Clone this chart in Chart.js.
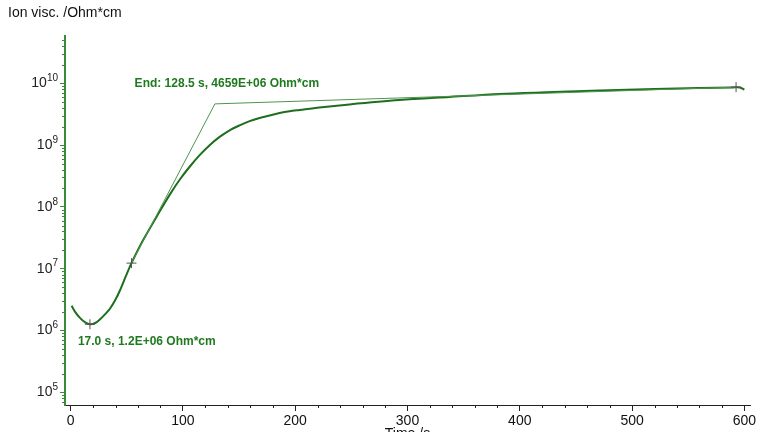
<!DOCTYPE html>
<html>
<head>
<meta charset="utf-8">
<script src="https://cdn.jsdelivr.net/npm/chart.js@4.4.1/dist/chart.umd.min.js"></script>
<style>
html, body { margin: 0; padding: 0; background: #fff; overflow: hidden; }
#wrap { position: relative; width: 768px; height: 445px; }
</style>
</head>
<body>
<div id="wrap"><canvas id="viscChart"></canvas></div>
<script>
// ion viscosity curve (time in s, Ohm*cm)
const times = [0.9, 4, 8.3, 13, 17.2, 22, 26, 31, 35, 40, 44, 49, 54.2, 64.5, 79.4, 88.3, 97.1, 106, 114.9,
  123.8, 132.7, 141.6, 150.5, 159.4, 168.3, 177.2, 186, 195, 204, 221.6, 248.3, 292.7, 337, 382, 430, 471,
  520, 559.4, 590, 596, 600];
const viscosity = [2.5e6, 2.0e6, 1.6e6, 1.35e6, 1.26e6, 1.32e6, 1.5e6, 1.85e6, 2.24e6, 3.16e6, 4.47e6, 7.41e6,
  1.23e7, 2.88e7, 8.5e7, 1.58e8, 2.75e8, 4.47e8, 6.9e8, 1.0e9, 1.36e9, 1.74e9, 2.09e9, 2.45e9, 2.75e9,
  3.02e9, 3.31e9, 3.55e9, 3.72e9, 4.07e9, 4.57e9, 5.37e9, 6.03e9, 6.76e9, 7.24e9, 7.7e9, 8.13e9, 8.41e9,
  8.6e9, 8.6e9, 7.9e9];

// construction line for the end point
const tangentTimes = [54.2, 128.5, 592.6];
const tangentValues = [1.23e7, 4.659e9, 8.7e9];

// cross markers
const markerTimes = [17.2, 54.2, 592.6];
const markerValues = [1.26e6, 1.23e7, 8.7e9];

const xTickValues = [0, 100, 200, 300, 400, 500, 600];
const yTickValues = [1e5, 1e6, 1e7, 1e8, 1e9, 1e10];
const yTickExponents = ['5', '6', '7', '8', '9', '10'];

const noteTexts = ['End: 128.5 s, 4659E+06 Ohm*cm', '17.0 s, 1.2E+06 Ohm*cm'];
const noteTimes = [57, 6.5];
const noteValues = [1e10, 6.6e5];

const curveGreen = '#1d6e1d';
const axisGreen = '#3a8a3a';
const noteGreen = '#1f7a1f';
const fontFam = "Arial, 'Liberation Sans', sans-serif";

Chart.defaults.font.family = fontFam;

const extras = {
  id: 'extras',
  afterDatasetsDraw(chart) {
    const { ctx, chartArea } = chart;
    const x = chart.scales.x, y = chart.scales.y;
    ctx.save();
    ctx.lineWidth = 1;

    // minor ticks on the log axis
    ctx.strokeStyle = axisGreen;
    for (let e = 4; e <= 10; e++) {
      for (let k = 2; k <= 9; k++) {
        const v = k * Math.pow(10, e);
        if (v < y.min || v > y.max) continue;
        const py = Math.round(y.getPixelForValue(v)) + 0.5;
        ctx.beginPath();
        ctx.moveTo(chartArea.left - 3, py);
        ctx.lineTo(chartArea.left, py);
        ctx.stroke();
      }
    }

    // minor ticks on time axis
    ctx.strokeStyle = '#222';
    for (let v = 20; v < 605; v += 20) {
      if (v % 100 === 0) continue;
      const px = Math.round(x.getPixelForValue(v)) + 0.5;
      ctx.beginPath();
      ctx.moveTo(px, chartArea.bottom);
      ctx.lineTo(px, chartArea.bottom + 3);
      ctx.stroke();
    }

    // y labels as 10 with raised exponent
    ctx.fillStyle = '#222';
    ctx.textAlign = 'right';
    ctx.textBaseline = 'middle';
    const right = chartArea.left - 7;
    yTickValues.forEach((v, i) => {
      const py = y.getPixelForValue(v);
      ctx.font = '10px ' + fontFam;
      const ew = ctx.measureText(yTickExponents[i]).width;
      ctx.fillText(yTickExponents[i], right, py - 5);
      ctx.font = '14px ' + fontFam;
      ctx.fillText('10', right - ew, py);
    });

    ctx.fillStyle = noteGreen;
    ctx.font = 'bold 12px ' + fontFam;
    ctx.textAlign = 'left';
    ctx.textBaseline = 'middle';
    noteTexts.forEach((t, i) => {
      ctx.fillText(t, x.getPixelForValue(noteTimes[i]), y.getPixelForValue(noteValues[i]));
    });
    ctx.restore();
  }
};

new Chart(document.getElementById('viscChart'), {
  type: 'line',
  data: {
    datasets: [
      {
        data: times.map((t, i) => ({ x: t, y: viscosity[i] })),
        borderColor: curveGreen,
        borderWidth: 2,
        pointRadius: 0,
        tension: 0.3,
        order: 2
      },
      {
        data: tangentTimes.map((t, i) => ({ x: t, y: tangentValues[i] })),
        borderColor: '#4f934f',
        borderWidth: 1,
        pointRadius: 0,
        tension: 0,
        order: 1
      },
      {
        data: markerTimes.map((t, i) => ({ x: t, y: markerValues[i] })),
        showLine: false,
        pointStyle: 'cross',
        pointRadius: 5,
        borderColor: '#555',
        borderWidth: 1,
        order: 0
      }
    ]
  },
  options: {
    responsive: true,
    maintainAspectRatio: false,
    animation: false,
    layout: { padding: { left: 8, right: 18, top: 0, bottom: 0 } },
    plugins: {
      legend: { display: false },
      tooltip: { enabled: false },
      title: {
        display: true,
        text: 'Ion visc. /Ohm*cm',
        align: 'start',
        color: '#111',
        font: { size: 14, weight: 'normal' },
        padding: { top: 5, bottom: 14 }
      }
    },
    scales: {
      x: {
        type: 'linear',
        min: -5,
        max: 605,
        afterBuildTicks: s => { s.ticks = xTickValues.map(v => ({ value: v })); },
        afterFit: s => { s.height = 40; },
        ticks: { color: '#111', font: { size: 14 }, padding: 2, maxRotation: 0, autoSkip: false },
        grid: { display: true, drawOnChartArea: false, tickLength: 6, color: '#222' },
        border: { color: '#222', width: 1 },
        title: { display: true, text: 'Time /s', color: '#111', font: { size: 14 }, padding: { top: 0, bottom: 2 } }
      },
      y: {
        type: 'logarithmic',
        min: 6.2e4,
        max: 5.9e10,
        afterBuildTicks: s => { s.ticks = yTickValues.map(v => ({ value: v })); },
        afterFit: s => { s.width = 57; },
        ticks: { display: false },
        grid: { display: true, drawOnChartArea: false, tickLength: 5, color: axisGreen },
        border: { color: axisGreen, width: 2 }
      }
    }
  },
  plugins: [extras]
});
</script>
</body>
</html>
